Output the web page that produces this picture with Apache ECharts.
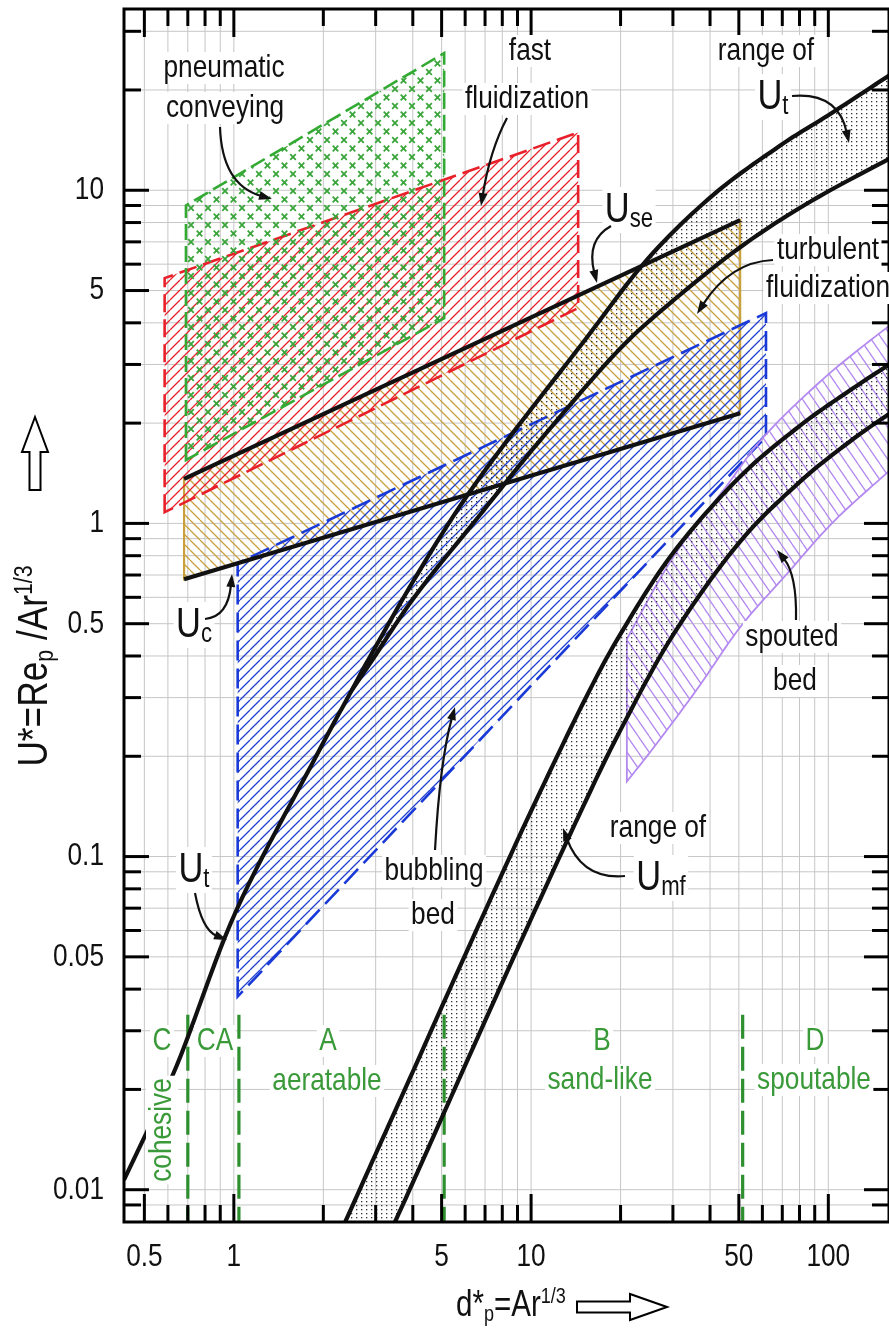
<!DOCTYPE html>
<html>
<head>
<meta charset="utf-8">
<title>Fluidization regime map</title>
<script src="https://cdn.jsdelivr.net/npm/echarts@6.0.0/dist/echarts.min.js"></script>
<style>
html,body{margin:0;padding:0;background:#fff;}
#chart{width:889px;height:1333px;}
</style>
</head>
<body>
<div id="chart"></div>
<script>
// ---------- axes ----------
const X_RANGE = [0.427, 160];
const Y_RANGE = [0.008, 35];
const xTickValues = [0.5, 1, 5, 10, 50, 100];
const yTickValues = [0.01, 0.05, 0.1, 0.5, 1, 5, 10];
const minorSteps = [1, 2, 3, 4, 5, 6, 7, 8, 9];
const decadeStarts = [0.001, 0.01, 0.1, 1, 10, 100];

// ---------- regime regions, points are [d*, U*] ----------
const pneumaticConveying = [[0.69, 1.55], [0.69, 9.0], [5.1, 25.8], [5.1, 4.13]];
const fastFluidization = [[0.585, 1.08], [0.585, 5.45], [14.4, 14.9], [14.4, 4.43]];
const bubblingBed = [[1.03, 0.038], [1.03, 0.76], [61.7, 4.28], [61.7, 1.82]];
const UseLine = [[0.68, 1.36], [50.5, 8.13]];
const UcLine = [[0.68, 0.68], [50.5, 2.14]];
const spoutedLower = [[21, 0.168], [25.9, 0.213], [36, 0.316], [50.6, 0.489], [72, 0.70], [105, 1.02], [165, 1.47]];
const spoutedUpper = [[21, 0.45], [30, 0.79], [45, 1.28], [61.7, 1.85], [100, 2.8], [165, 4.0]];

// terminal velocity: single curve at small d*, band at large d*
const UtUpper = [[0.427, 0.0107], [0.64, 0.0234], [1.02, 0.069], [1.88, 0.198], [2.5, 0.317], [2.88, 0.40],
  [4.03, 0.675], [5.74, 1.12], [8.41, 1.80], [14.8, 3.45], [24.6, 6.2], [41.1, 9.7], [68.7, 13.6], [100, 16.8], [165, 22.5]];
const UtLower = [[2.5, 0.317], [2.9, 0.385], [4.1, 0.61], [6.5, 1.02], [8.9, 1.45], [12, 2.0], [19, 3.2],
  [27.4, 4.35], [50, 6.7], [88, 9.3], [165, 12.6]];

// minimum fluidization band
const UmfUpper = [[2.2, 0.0069], [3, 0.0128], [4, 0.0226], [5, 0.0353], [7, 0.0686], [10, 0.137], [15, 0.29],
  [20, 0.466], [30, 0.814], [50, 1.37], [80, 1.96], [120, 2.53], [165, 3.05]];
const UmfLower = [[3.3, 0.0072], [4, 0.0105], [5, 0.0164], [7, 0.0321], [10, 0.065], [15, 0.142], [20, 0.24],
  [30, 0.462], [50, 0.873], [80, 1.33], [120, 1.78], [165, 2.17]];

// Geldart group boundaries
const geldartBounds = [0.7, 1.04, 5.1, 51.5];
const geldartTop = 0.0335;

// ---------- fonts ----------
function fontInstalled(name) {
  const c = document.createElement('canvas').getContext('2d');
  c.font = '40px monospace';
  const w0 = c.measureText('pneumatic 0.05 fluidization').width;
  c.font = '40px "' + name + '", monospace';
  const w1 = c.measureText('pneumatic 0.05 fluidization').width;
  return Math.abs(w0 - w1) > 0.5;
}
const HAS_NARROW = fontInstalled('Liberation Sans Narrow');
const FAM = HAS_NARROW ? '"Liberation Sans Narrow", "Liberation Sans", Arial, sans-serif' : '"Liberation Sans", Arial, sans-serif';
const TS = HAS_NARROW ? 1 : 0.82;
const INK = '#111';
const GREEN_TXT = '#3a9a3a';

// ---------- fill patterns ----------
function pattern(w, h, draw) {
  const c = document.createElement('canvas');
  c.width = w; c.height = h;
  const g = c.getContext('2d');
  draw(g, w, h);
  return { image: c, repeat: 'repeat' };
}
function hatch(color, w, h, lw, rising) {
  return pattern(w, h, (g) => {
    g.strokeStyle = color; g.lineWidth = lw; g.beginPath();
    for (let k = -1; k <= 1; k++) {
      if (rising) { g.moveTo(k * w, h); g.lineTo(k * w + w, 0); }
      else { g.moveTo(k * w, 0); g.lineTo(k * w + w, h); }
    }
    g.stroke();
  });
}
const redHatch = hatch('#e8202a', 10, 10, 1.3, true);
const blueHatch = hatch('#1f3fd0', 10, 10, 1.3, true);
const goldHatch = hatch('#c9a03c', 10, 10, 1.3, false);
const purpleHatch = hatch('#b48af0', 11, 16, 1.3, false);
const greenCross = pattern(17, 17, (g) => {
  g.strokeStyle = '#3aa53a'; g.lineWidth = 1.8;
  [[4, 4], [12.5, 12.5]].forEach(([cx, cy]) => {
    g.beginPath();
    g.moveTo(cx - 2.8, cy - 2.8); g.lineTo(cx + 2.8, cy + 2.8);
    g.moveTo(cx + 2.8, cy - 2.8); g.lineTo(cx - 2.8, cy + 2.8);
    g.stroke();
  });
});
const dots = pattern(5, 4, (g) => { g.fillStyle = '#333'; g.fillRect(1, 1, 1.3, 1.3); });

// ---------- helpers ----------
function gridValues(range) {
  const out = [];
  decadeStarts.forEach(d => minorSteps.forEach(m => {
    const v = +(d * m).toPrecision(3);
    if (v > range[0] * 1.0001 && v < range[1] * 0.9999) out.push(v);
  }));
  return out;
}
const xGrid = gridValues(X_RANGE);
const yGrid = gridValues(Y_RANGE);

// Catmull-Rom through pixel points, for drawing smooth curves
function spline(p, steps) {
  steps = steps || 12;
  if (p.length < 3) return p.slice();
  const out = [];
  for (let i = 0; i < p.length - 1; i++) {
    const p0 = p[i - 1] || p[i], p1 = p[i], p2 = p[i + 1], p3 = p[i + 2] || p[i + 1];
    for (let s = 0; s < steps; s++) {
      const t = s / steps, t2 = t * t, t3 = t2 * t;
      out.push([0, 1].map(k => 0.5 * (2 * p1[k] + (-p0[k] + p2[k]) * t +
        (2 * p0[k] - 5 * p1[k] + 4 * p2[k] - p3[k]) * t2 + (-p0[k] + 3 * p1[k] - 3 * p2[k] + p3[k]) * t3)));
    }
  }
  out.push(p[p.length - 1]);
  return out;
}

function layer(name, data, z, clip, draw) {
  return {
    type: 'custom', name, coordinateSystem: 'cartesian2d', clip, silent: true, z,
    data,
    renderItem: (params, api) => (params.dataIndex === 0 ? draw(api) : null)
  };
}
const toPx = (api, arr) => arr.map(p => api.coord(p));

function region(name, pts, fill, stroke, dash, lw, z) {
  return layer(name, pts, z, true, (api) => {
    const poly = toPx(api, pts);
    return { type: 'group', children: [
      { type: 'polygon', shape: { points: poly }, style: { fill, stroke: 'none' } },
      { type: 'polygon', shape: { points: poly }, style: { fill: 'none', stroke, lineWidth: lw, lineDash: dash } }
    ] };
  });
}

function band(name, upper, lower, fill, z, stroke, lw) {
  return layer(name, upper, z, true, (api) => {
    const up = spline(toPx(api, upper));
    const lo = spline(toPx(api, lower));
    const poly = up.concat(lo.slice().reverse());
    const children = [{ type: 'polygon', shape: { points: poly }, style: { fill, stroke: 'none' } }];
    if (stroke) children.push({ type: 'polygon', shape: { points: poly }, style: { fill: 'none', stroke, lineWidth: lw } });
    return { type: 'group', children };
  });
}

function curve(name, pts, z, lw) {
  return layer(name, pts, z, true, (api) => ({
    type: 'polyline', shape: { points: spline(toPx(api, pts)) },
    style: { fill: 'none', stroke: INK, lineWidth: lw || 4.2, lineJoin: 'round' }
  }));
}

// ---------- frame, grid, ticks ----------
const gridLayer = layer('grid', [[1, 1]], 1, true, (api) => {
  const ch = [];
  xGrid.forEach(v => {
    const a = api.coord([v, Y_RANGE[0]]), b = api.coord([v, Y_RANGE[1]]);
    ch.push({ type: 'line', shape: { x1: a[0], y1: a[1], x2: b[0], y2: b[1] }, style: { stroke: '#c6c6c6', lineWidth: 1 } });
  });
  yGrid.forEach(v => {
    const a = api.coord([X_RANGE[0], v]), b = api.coord([X_RANGE[1], v]);
    ch.push({ type: 'line', shape: { x1: a[0], y1: a[1], x2: b[0], y2: b[1] }, style: { stroke: '#c6c6c6', lineWidth: 1 } });
  });
  return { type: 'group', children: ch };
});

const frameLayer = layer('frame', [[1, 1]], 60, false, (api) => {
  const ch = [];
  const [x0, y0] = api.coord([X_RANGE[0], Y_RANGE[0]]);
  const [x1, y1] = api.coord([X_RANGE[1], Y_RANGE[1]]);
  const seg = (ax, ay, bx, by) => ({ type: 'line', shape: { x1: ax, y1: ay, x2: bx, y2: by }, style: { stroke: '#000', lineWidth: 3 } });
  xGrid.forEach(v => {
    const px = api.coord([v, Y_RANGE[0]])[0];
    const L = xTickValues.includes(v) ? 28 : 17;
    ch.push(seg(px, y0, px, y0 - L), seg(px, y1, px, y1 + L));
  });
  yGrid.forEach(v => {
    const py = api.coord([X_RANGE[0], v])[1];
    const L = yTickValues.includes(v) ? 25 : 17;
    ch.push(seg(x0, py, x0 + L, py), seg(x1, py, x1 - L, py));
  });
  ch.push({ type: 'rect', shape: { x: x0, y: y1, width: x1 - x0, height: y0 - y1 }, style: { fill: 'none', stroke: '#000', lineWidth: 3 } });
  xTickValues.forEach(v => {
    const px = api.coord([v, Y_RANGE[0]])[0];
    ch.push({ type: 'text', x: px, y: y0 + 35, scaleX: TS,
      style: { text: String(v), x: 0, y: 0, align: 'center', verticalAlign: 'middle', fontSize: 32, fontFamily: FAM, fill: INK } });
  });
  yTickValues.forEach(v => {
    const py = api.coord([X_RANGE[0], v])[1];
    ch.push({ type: 'text', x: x0 - 20, y: py, scaleX: TS,
      style: { text: String(v), x: 0, y: 0, align: 'right', verticalAlign: 'middle', fontSize: 32, fontFamily: FAM, fill: INK } });
  });
  return { type: 'group', children: ch };
});

const geldartLayer = layer('Geldart groups', geldartBounds.map(b => [b, geldartTop]), 9, true, (api) => ({
  type: 'group',
  children: geldartBounds.map(b => {
    const top = api.coord([b, geldartTop]), bot = api.coord([b, Y_RANGE[0]]);
    return { type: 'line', shape: { x1: top[0], y1: top[1], x2: bot[0], y2: bot[1] },
      style: { stroke: '#2e8f2e', lineWidth: 3.2, lineDash: [24, 8] } };
  })
}));

// ---------- text annotations ----------
function rich(size, small) {
  const base = { fontFamily: FAM, fill: INK };
  return {
    m: Object.assign({ fontSize: size, lineHeight: size + 4 }, base),
    U: Object.assign({ fontSize: 42, lineHeight: 46 }, base),
    s: Object.assign({ fontSize: 27, lineHeight: 27, verticalAlign: 'bottom' }, base),
    as: Object.assign({ fontSize: small, lineHeight: small, verticalAlign: 'bottom' }, base),
    sup: Object.assign({ fontSize: small, lineHeight: small, verticalAlign: 'top' }, base)
  };
}
function label(x, y, text, opt) {
  opt = opt || {};
  const size = opt.size || 32;
  return {
    type: 'text', x, y, z: 100, silent: true, scaleX: TS, rotation: opt.rotation || 0,
    style: {
      text, x: 0, y: 0, align: opt.align || 'center', verticalAlign: 'middle',
      fontSize: size, fontFamily: FAM, fill: opt.color || INK,
      backgroundColor: opt.bg === false ? null : '#fff', padding: [0, 3],
      rich: rich(size, opt.small || 22)
    }
  };
}
function arrow(x1, y1, cx, cy, x2, y2) {
  const dx = x2 - cx, dy = y2 - cy, len = Math.hypot(dx, dy);
  const ux = dx / len, uy = dy / len, hl = 13, hw = 4.5;
  const bx = x2 - ux * hl, by = y2 - uy * hl;
  return [
    { type: 'bezierCurve', z: 110, silent: true,
      shape: { x1, y1, x2: bx + ux * 2, y2: by + uy * 2, cpx1: cx, cpy1: cy },
      style: { stroke: INK, lineWidth: 2.2, fill: 'none' } },
    { type: 'polygon', z: 110, silent: true,
      shape: { points: [[x2, y2], [bx - uy * hw, by + ux * hw], [bx + uy * hw, by - ux * hw]] },
      style: { fill: INK } }
  ];
}

const graphics = [
  label(224, 68, 'pneumatic'), label(225, 108, 'conveying'),
  label(530, 51, 'fast'), label(527, 99, 'fluidization'),
  label(766, 51, 'range of'), label(773, 97, '{U|U}{s|t}'),
  label(629, 210, '{U|U}{s|se}'),
  label(828, 250, 'turbulent'), label(828, 288, 'fluidization'),
  label(194, 625, '{U|U}{s|c}'),
  label(194, 870, '{U|U}{s|t}'),
  label(434, 871, 'bubbling'), label(433, 915, 'bed'),
  label(792, 637, 'spouted'), label(795, 681, 'bed'),
  label(658, 828, 'range of'), label(661, 878, '{U|U}{s|mf}'),
  // Geldart groups
  label(162, 1041, 'C', { color: GREEN_TXT }), label(215, 1041, 'CA', { color: GREEN_TXT }),
  label(328, 1041, 'A', { color: GREEN_TXT }), label(327, 1081, 'aeratable', { color: GREEN_TXT }),
  label(602, 1041, 'B', { color: GREEN_TXT }), label(600, 1080, 'sand-like', { color: GREEN_TXT }),
  label(815, 1041, 'D', { color: GREEN_TXT }), label(814, 1080, 'spoutable', { color: GREEN_TXT }),
  label(162, 1130, 'cohesive', { color: GREEN_TXT, rotation: Math.PI / 2 }),
  // axis titles
  label(35, 666, '{m|U*=Re}{as|p}{m| /Ar}{sup|1/3}', { size: 43, small: 26, rotation: Math.PI / 2, bg: false }),
  label(511, 1306, '{m|d*}{as|p}{m|=Ar}{sup|1/3}', { size: 36, bg: false }),
  { type: 'polygon', z: 100, silent: true,
    shape: { points: [[35, 417], [48, 452], [40.5, 452], [40.5, 490], [29.5, 490], [29.5, 452], [22, 452]] },
    style: { fill: '#fff', stroke: '#000', lineWidth: 2 } },
  { type: 'polygon', z: 100, silent: true,
    shape: { points: [[667, 1307], [630, 1294], [630, 1301.5], [577, 1301.5], [577, 1312.5], [630, 1312.5], [630, 1320]] },
    style: { fill: '#fff', stroke: '#000', lineWidth: 2 } }
].concat(
  arrow(220, 127, 222, 185, 272, 199),
  arrow(507, 118, 490, 150, 481, 206),
  arrow(792, 96, 838, 92, 849, 143),
  arrow(611, 226, 586, 240, 597, 283),
  arrow(773, 260, 730, 262, 697, 314),
  arrow(205, 619, 228, 617, 232, 574),
  arrow(195, 893, 202, 930, 227, 940),
  arrow(435, 850, 440, 760, 455, 707),
  arrow(796, 620, 797, 575, 777, 550),
  arrow(625, 876, 582, 880, 563, 828)
);

// ---------- chart ----------
const chart = echarts.init(document.getElementById('chart'), null, { renderer: 'canvas' });
chart.setOption({
  animation: false,
  backgroundColor: '#fff',
  grid: { left: 124, top: 9, width: 773, height: 1213, containLabel: false },
  xAxis: { type: 'log', logBase: 10, min: X_RANGE[0], max: X_RANGE[1],
    axisLine: { show: false }, axisTick: { show: false }, axisLabel: { show: false }, splitLine: { show: false } },
  yAxis: { type: 'log', logBase: 10, min: Y_RANGE[0], max: Y_RANGE[1],
    axisLine: { show: false }, axisTick: { show: false }, axisLabel: { show: false }, splitLine: { show: false } },
  series: [
    gridLayer,
    band('turbulent fluidization', UseLine, UcLine, goldHatch, 2, '#c9a03c', 2.2),
    region('bubbling bed', bubblingBed, blueHatch, '#1a3ad8', [20, 8], 2.6, 3),
    region('fast fluidization', fastFluidization, redHatch, '#e8202a', [18, 7], 2.6, 4),
    region('pneumatic conveying', pneumaticConveying, greenCross, '#33aa33', [16, 6], 2.6, 5),
    band('spouted bed', spoutedUpper, spoutedLower, purpleHatch, 6, '#b48af0', 1.8),
    band('range of Ut', UtUpper.filter(p => p[0] >= UtLower[0][0]), UtLower, dots, 7),
    band('range of Umf', UmfUpper, UmfLower, dots, 7),
    geldartLayer,
    curve('Use', UseLine, 10),
    curve('Uc', UcLine, 10),
    curve('Ut upper', UtUpper, 10),
    curve('Ut lower', UtLower, 10),
    curve('Umf upper', UmfUpper, 10),
    curve('Umf lower', UmfLower, 10),
    frameLayer
  ],
  graphic: { elements: graphics }
});
</script>
</body>
</html>
